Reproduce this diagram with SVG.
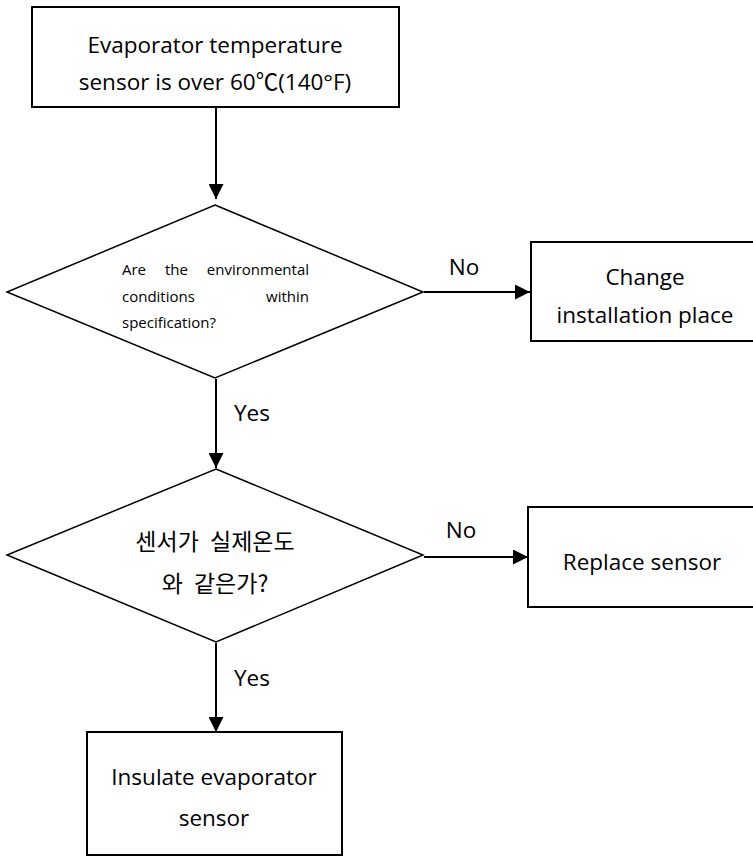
<svg xmlns="http://www.w3.org/2000/svg" width="753" height="857" viewBox="0 0 753 857">
<style>
  .box { fill: #fff; stroke: #000; stroke-width: 2; }
  .dia { fill: #fff; stroke: #000; stroke-width: 1.5; }
  .t { font-family: "Open Sans", "Noto Sans CJK KR", sans-serif; font-size: 22.5px; fill: #000; text-anchor: middle; }
  .s { font-family: "Open Sans", "Noto Sans CJK KR", sans-serif; font-size: 15px; fill: #000; }
  .k { font-family: "Noto Sans CJK KR", sans-serif; font-size: 23px; word-spacing: 6px; fill: #000; text-anchor: middle; }
  .c { stroke: #000; stroke-width: 2; fill: none; marker-end: url(#ah); }
</style>
<defs>
  <marker id="ah" viewBox="0 0 10 10" refX="10" refY="5" markerWidth="7.5" markerHeight="7.5" markerUnits="strokeWidth" orient="auto">
    <path d="M0,0 L10,5 L0,10 z" fill="#000"/>
  </marker>
  <clipPath id="clip1"><rect x="100" y="250" width="240" height="81"/></clipPath>
</defs>
<rect width="753" height="857" fill="#fff"/>
<g id="connectors">
  <line class="c" x1="216" y1="108" x2="216" y2="199"/>
  <line class="c" x1="216" y1="379" x2="216" y2="468"/>
  <line class="c" x1="216" y1="643" x2="216" y2="732"/>
  <line class="c" x1="424" y1="292" x2="530" y2="292"/>
  <line class="c" x1="424" y1="557" x2="528" y2="557"/>
  <text class="t" x="464" y="275">No</text>
  <text class="t" x="461" y="538">No</text>
  <text class="t" x="252" y="421">Yes</text>
  <text class="t" x="252" y="686">Yes</text>
</g>
<g id="start">
  <rect class="box" x="32" y="7" width="367" height="100"/>
  <text class="t" x="215" y="53">Evaporator temperature</text>
  <text class="t" x="215" y="90">sensor is over 60℃(140°F)</text>
</g>
<g id="decision1">
  <polygon class="dia" points="215,205 423,292 215,378 7,292"/>
  <g clip-path="url(#clip1)">
    <text class="s" y="275"><tspan x="122">Are</tspan><tspan x="165">the</tspan><tspan x="309" text-anchor="end">environmental</tspan></text>
    <text class="s" y="302"><tspan x="122">conditions</tspan><tspan x="309" text-anchor="end">within</tspan></text>
    <text class="s" y="328"><tspan x="122">specification?</tspan></text>
  </g>
</g>
<g id="change">
  <rect class="box" x="531" y="242" width="240" height="99"/>
  <text class="t" x="645" y="285">Change</text>
  <text class="t" x="645" y="323">installation place</text>
</g>
<g id="decision2">
  <polygon class="dia" points="216,469 423,555 216,642 7,555"/>
  <text class="k" x="215" y="550">센서가 실제온도</text>
  <text class="k" x="215" y="592">와 같은가?</text>
</g>
<g id="replace">
  <rect class="box" x="528" y="507" width="240" height="100"/>
  <text class="t" x="642" y="570">Replace sensor</text>
</g>
<g id="insulate">
  <rect class="box" x="87" y="732" width="255" height="123"/>
  <text class="t" x="214" y="785">Insulate evaporator</text>
  <text class="t" x="214" y="826">sensor</text>
</g>
</svg>
